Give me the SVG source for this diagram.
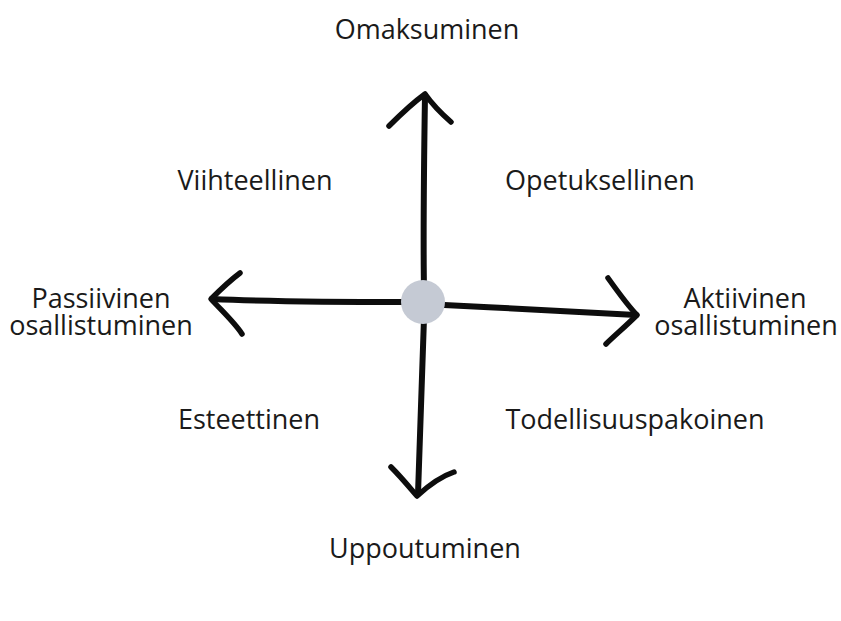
<svg xmlns="http://www.w3.org/2000/svg" width="841" height="621" viewBox="0 0 841 621">
<style>
.t{font-family:"Open Sans","Noto Sans",sans-serif;font-size:27px;fill:#1a1a1a;text-anchor:middle}
.ax{fill:none;stroke:#0d0d0d;stroke-width:6;stroke-linecap:round;stroke-linejoin:round}
.hd{fill:none;stroke:#0d0d0d;stroke-width:5.5;stroke-linecap:round;stroke-linejoin:round}
</style>
<rect width="841" height="621" fill="#ffffff"/>
<g id="connectors">
<path class="ax" d="M425 95 C424 160 423 230 424 290"/>
<path class="ax" d="M424 318 C422 380 420 440 418 494"/>
<path class="ax" d="M212 299 C280 302 350 302 405 302"/>
<path class="ax" d="M444 305 C510 308 580 312 636 315"/>
<path class="hd" d="M389 126 C401 114 414 102 425 94 C432 104 443 115 451 122"/>
<path class="hd" d="M391 467 C402 478 410 488 417 496 C428 486 442 476 454 472"/>
<path class="hd" d="M240 273 C228 282 218 292 211 299 C222 311 235 323 242 334"/>
<path class="hd" d="M608 278 C618 292 628 306 637 315 C626 326 614 336 606 344"/>
</g>
<g id="center"><circle cx="423" cy="302" r="22" fill="#c5cad4"/></g>
<g id="n-omaksuminen"><text class="t" x="427" y="39">Omaksuminen</text></g>
<g id="n-viihteellinen"><text class="t" x="255" y="190">Viihteellinen</text></g>
<g id="n-opetuksellinen"><text class="t" x="600" y="190">Opetuksellinen</text></g>
<g id="n-passiivinen"><text class="t" x="101" y="308">Passiivinen</text><text class="t" x="101" y="335">osallistuminen</text></g>
<g id="n-aktiivinen"><text class="t" x="745" y="308">Aktiivinen</text><text class="t" x="746" y="335">osallistuminen</text></g>
<g id="n-esteettinen"><text class="t" x="249" y="429">Esteettinen</text></g>
<g id="n-todellisuuspakoinen"><text class="t" x="635" y="429">Todellisuuspakoinen</text></g>
<g id="n-uppoutuminen"><text class="t" x="425" y="558">Uppoutuminen</text></g>
</svg>
